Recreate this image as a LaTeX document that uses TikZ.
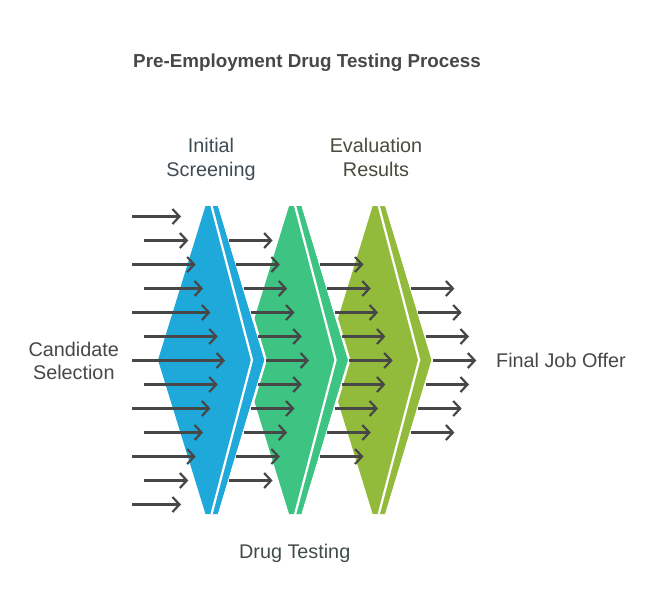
\documentclass[tikz,border=0pt]{standalone}
\usepackage{fontspec}
\setmainfont{Liberation Sans}
\usetikzlibrary{arrows.meta}
\definecolor{cblue}{HTML}{1FA8DA}
\definecolor{cgreen}{HTML}{3DC483}
\definecolor{colive}{HTML}{93BB3B}
\definecolor{agray}{HTML}{474747}
\definecolor{tblue}{HTML}{3E4B53}
\definecolor{tgreen}{HTML}{3F4D47}
\definecolor{tolive}{HTML}{4A4A3D}
\tikzset{
  cutline/.style={draw=white, line width=2.4pt, line join=miter},
  flow/.style={draw=agray, line width=2.2pt, -{Straight Barb[length=7pt,width=15pt]}},
  lbl/.style={font=\fontsize{19.8}{23.5}\selectfont, text=agray, align=center, inner sep=0pt},
  ttl/.style={font=\fontsize{18.8}{22}\selectfont\bfseries, text=agray, inner sep=0pt},
}
\begin{document}
\begin{tikzpicture}[x=1pt,y=-1pt]
\useasboundingbox (0,0) rectangle (662,614);
% filter shapes, drawn from right to left
\foreach \dx/\col in {167.2/colive, 83.6/cgreen, 0/cblue}{
  \begin{scope}[xshift=\dx]
    \fill[\col] (205.5,206) -- (218,206) -- (264.5,360) -- (218,514) -- (205.5,514) -- (158,360) -- cycle;
    \draw[cutline] (219.2,206) -- (265.7,360) -- (219.2,514);
    \begin{scope}
      \clip (205.5,206) -- (218,206) -- (264.5,360) -- (218,514) -- (205.5,514) -- (158,360) -- cycle;
      \draw[draw=white, line width=2.2pt, line join=miter] (210,200) -- (252,360) -- (210,520);
    \end{scope}
  \end{scope}
}
% arrows entering the first filter
\foreach \k in {0,...,12}{
  \pgfmathsetmacro{\d}{6-abs(\k-6)}
  \pgfmathsetmacro{\yy}{216.5+24*\k}
  \pgfmathsetmacro{\xs}{132+12*mod(\k,2)}
  \pgfmathsetmacro{\xe}{181+7.35*\d}
  \coordinate (s0-\k) at (\xs,\yy);
  \coordinate (e0-\k) at (\xe,\yy);
  \draw[flow] (s0-\k) -- (e0-\k);
}
% arrows between and after filters
\foreach \g in {1,2,3}{
  \foreach \k in {0,...,12}{
    \pgfmathsetmacro{\d}{6-abs(\k-6)}
    \pgfmathtruncatemacro{\ok}{\d>=\g ? 1 : 0}
    \ifnum\ok=1
      \pgfmathsetmacro{\yy}{216.5+24*\k}
      \pgfmathsetmacro{\xs}{221.8+7.3*\d+83.6*(\g-1)}
      \pgfmathsetmacro{\xe}{\xs+43.5}
      \coordinate (s\g-\k) at (\xs,\yy);
      \coordinate (e\g-\k) at (\xe,\yy);
      \draw[flow] (s\g-\k) -- (e\g-\k);
    \fi
  }
}
% texts
\node[ttl, anchor=base] (title) at (307,67.7) {Pre-Employment Drug Testing Process};
\node[lbl, anchor=base, text=tblue] (initial) at (211,176.3) {Initial\\Screening};
\node[lbl, anchor=base, text=tolive] (eval) at (376,176.3) {Evaluation\\Results};
\node[lbl, anchor=base] (cand) at (73.8,379.5) {Candidate\\Selection};
\node[lbl, anchor=base, text=tgreen] (drug) at (294.7,558.3) {Drug Testing};
\node[lbl, anchor=base west] (final) at (496,367.7) {Final Job Offer};
\end{tikzpicture}
\end{document}
